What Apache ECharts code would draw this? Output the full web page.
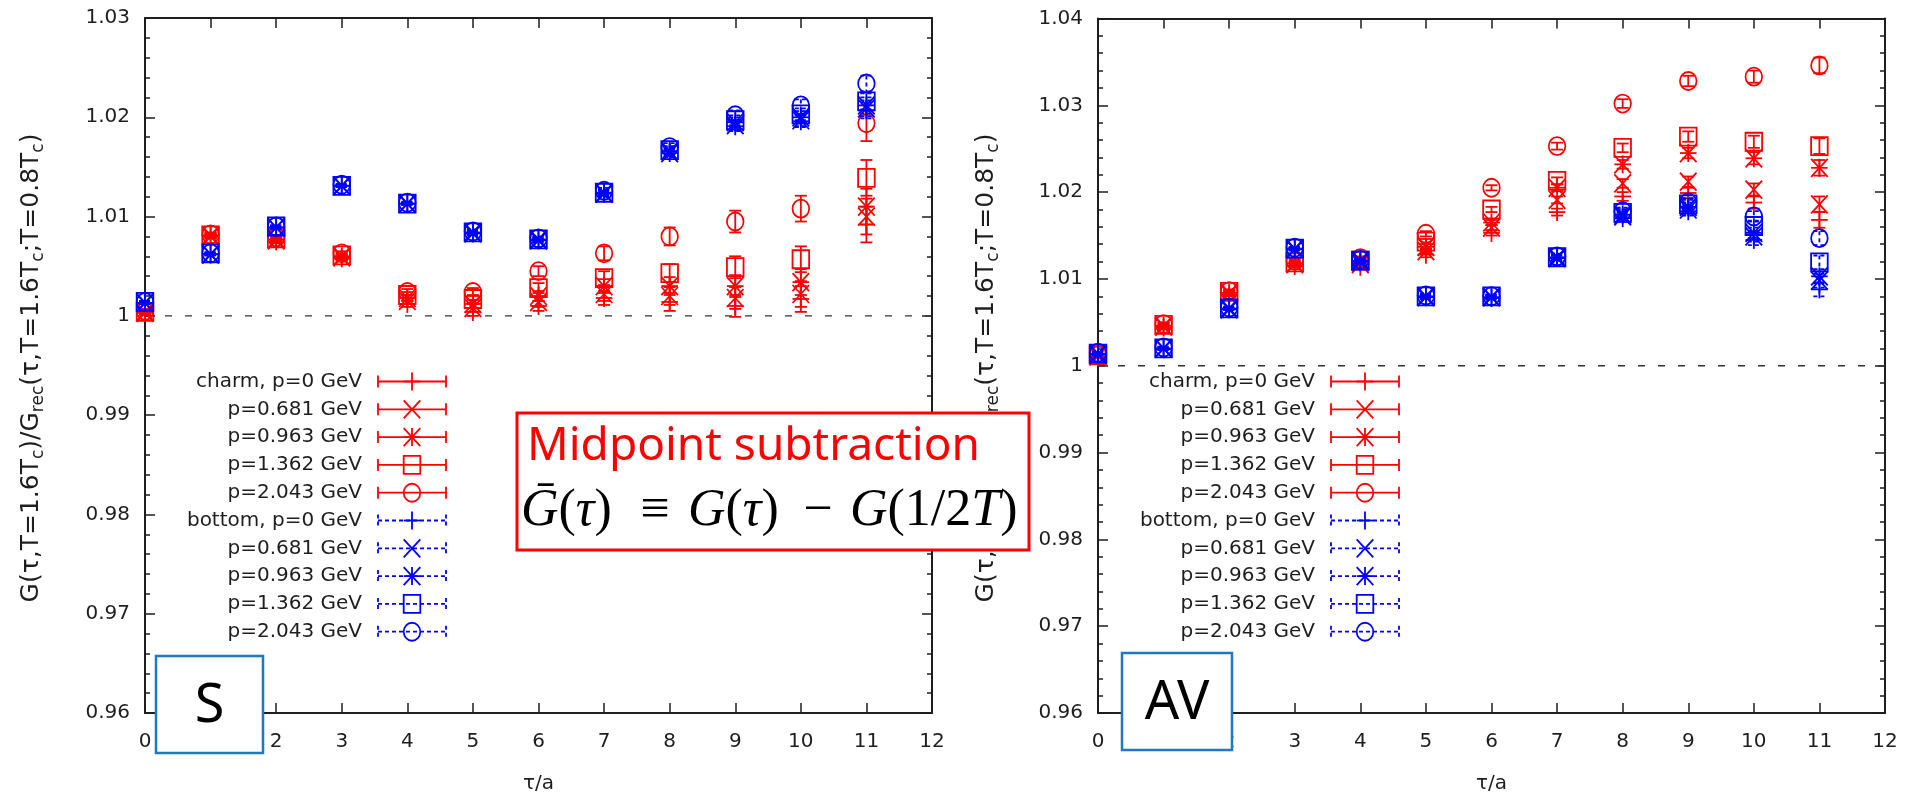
<!DOCTYPE html>
<html>
<head>
<meta charset="utf-8">
<title>Correlator ratio, S and AV channels</title>
<script src="https://cdn.jsdelivr.net/npm/echarts@6/dist/echarts.min.js"></script>
<style>
  html, body { margin: 0; padding: 0; background: #ffffff; }
  #main { width: 1907px; height: 799px; }
</style>
</head>
<body>
<div id="main"></div>
<script>
// ---------- data ----------
const tau = [0, 1, 2, 3, 4, 5, 6, 7, 8, 9, 10, 11];
const xTickLabels = ['0', '1', '2', '3', '4', '5', '6', '7', '8', '9', '10', '11', '12'];
const yTickLabelsS = ['0.96', '0.97', '0.98', '0.99', '1', '1.01', '1.02', '1.03'];
const yTickLabelsAV = ['0.96', '0.97', '0.98', '0.99', '1', '1.01', '1.02', '1.03', '1.04'];
const legendLabels = ['charm, p=0 GeV', 'p=0.681 GeV', 'p=0.963 GeV', 'p=1.362 GeV', 'p=2.043 GeV',
                      'bottom, p=0 GeV', 'p=0.681 GeV', 'p=0.963 GeV', 'p=1.362 GeV', 'p=2.043 GeV'];
const yAxisTitle = '{m|G(τ,T=1.6T}{s|c}{m|)/G}{s|rec}{m|(τ,T=1.6T}{s|c}{m|;T=0.8T}{s|c}{m|)}';

// S channel, charm
const sCharmP0    = [1.0003, 1.0080, 1.0075, 1.0058, 1.0012, 1.0004, 1.0010, 1.0018, 1.0014, 1.0010, 1.0017, 1.0092];
const sCharmP0681 = [1.0003, 1.0080, 1.0076, 1.0059, 1.0015, 1.0008, 1.0014, 1.0022, 1.0020, 1.0018, 1.0022, 1.0100];
const sCharmP0963 = [1.0004, 1.0081, 1.0077, 1.0060, 1.0018, 1.0012, 1.0020, 1.0030, 1.0030, 1.0030, 1.0034, 1.0110];
const sCharmP1362 = [1.0004, 1.0081, 1.0078, 1.0061, 1.0021, 1.0017, 1.0028, 1.0038, 1.0043, 1.0049, 1.0057, 1.0139];
const sCharmP2043 = [1.0005, 1.0082, 1.0079, 1.0063, 1.0024, 1.0024, 1.0045, 1.0063, 1.0080, 1.0095, 1.0108, 1.0194];
const sCharmErr   = [0.0002, 0.0002, 0.0002, 0.0002, 0.0003, 0.0004, 0.0005, 0.0007, 0.0009, 0.0011, 0.0013, 0.0018];
// S channel, bottom
const sBottomP0    = [1.0013, 1.0062, 1.0089, 1.0131, 1.0113, 1.0083, 1.0076, 1.0123, 1.0164, 1.0191, 1.0196, 1.0207];
const sBottomP0681 = [1.0013, 1.0062, 1.0089, 1.0131, 1.0113, 1.0083, 1.0076, 1.0123, 1.0164, 1.0192, 1.0197, 1.0209];
const sBottomP0963 = [1.0013, 1.0062, 1.0089, 1.0131, 1.0113, 1.0084, 1.0077, 1.0124, 1.0166, 1.0195, 1.0200, 1.0212];
const sBottomP1362 = [1.0014, 1.0063, 1.0090, 1.0131, 1.0113, 1.0084, 1.0077, 1.0124, 1.0167, 1.0197, 1.0203, 1.0216];
const sBottomP2043 = [1.0014, 1.0063, 1.0090, 1.0132, 1.0114, 1.0085, 1.0078, 1.0126, 1.0170, 1.0202, 1.0212, 1.0234];
const sBottomErr   = [0.0001, 0.0001, 0.0001, 0.0001, 0.0001, 0.0002, 0.0002, 0.0003, 0.0004, 0.0005, 0.0006, 0.0008];

// AV channel, charm
const avCharmP0    = [1.0010, 1.0044, 1.0082, 1.0115, 1.0114, 1.0128, 1.0153, 1.0177, 1.0195, 1.0199, 1.0188, 1.0168];
const avCharmP0681 = [1.0011, 1.0045, 1.0083, 1.0117, 1.0117, 1.0132, 1.0159, 1.0191, 1.0210, 1.0212, 1.0203, 1.0186];
const avCharmP0963 = [1.0011, 1.0046, 1.0084, 1.0118, 1.0119, 1.0137, 1.0165, 1.0205, 1.0232, 1.0245, 1.0239, 1.0228];
const avCharmP1362 = [1.0012, 1.0047, 1.0085, 1.0119, 1.0121, 1.0143, 1.0180, 1.0213, 1.0251, 1.0264, 1.0258, 1.0253];
const avCharmP2043 = [1.0012, 1.0048, 1.0086, 1.0121, 1.0124, 1.0152, 1.0205, 1.0253, 1.0302, 1.0328, 1.0333, 1.0346];
const avCharmErr   = [0.0001, 0.0002, 0.0002, 0.0002, 0.0002, 0.0003, 0.0003, 0.0004, 0.0005, 0.0006, 0.0007, 0.0009];
// AV channel, bottom
const avBottomP0    = [1.0013, 1.0019, 1.0065, 1.0134, 1.0120, 1.0079, 1.0078, 1.0124, 1.0170, 1.0178, 1.0145, 1.0088];
const avBottomP0681 = [1.0013, 1.0020, 1.0065, 1.0134, 1.0120, 1.0079, 1.0079, 1.0124, 1.0172, 1.0180, 1.0149, 1.0098];
const avBottomP0963 = [1.0014, 1.0020, 1.0066, 1.0135, 1.0121, 1.0080, 1.0079, 1.0125, 1.0174, 1.0183, 1.0153, 1.0103];
const avBottomP1362 = [1.0014, 1.0020, 1.0066, 1.0135, 1.0121, 1.0080, 1.0080, 1.0125, 1.0176, 1.0186, 1.0161, 1.0119];
const avBottomP2043 = [1.0015, 1.0021, 1.0067, 1.0136, 1.0122, 1.0081, 1.0080, 1.0126, 1.0178, 1.0188, 1.0172, 1.0147];
const avBottomErr   = [0.0001, 0.0001, 0.0001, 0.0001, 0.0002, 0.0002, 0.0002, 0.0003, 0.0004, 0.0005, 0.0006, 0.0008];

// ---------- styling ----------
const RED = '#ff0000';
const BLUE = '#0000ff';
const INK = '#1e1e1e';
const FONT = 'DejaVu Sans';
const shapes = ['plus', 'cross', 'star', 'square', 'circle'];
const HW = 8.3, HH = 9;     // half width / half height of point symbols
const CAP = 6;              // half width of error-bar caps
const LW = 1.8;             // stroke width of points and bars

function strokeStyle(color, dashed) {
  return { stroke: color, lineWidth: LW, fill: null, lineDash: dashed ? [4, 3] : null };
}
function seg(x1, y1, x2, y2, color, dashed, z) {
  const el = { type: 'line', shape: { x1, y1, x2, y2 }, style: strokeStyle(color, dashed) };
  if (z != null) el.z = z;
  return el;
}
// point symbols in the gnuplot style: +, x, *, open square, open circle
function symbolEls(shape, cx, cy, color, z) {
  const out = [];
  if (shape === 'plus' || shape === 'star') {
    out.push(seg(cx - HW, cy, cx + HW, cy, color, false));
    out.push(seg(cx, cy - HH, cx, cy + HH, color, false));
  }
  if (shape === 'cross' || shape === 'star') {
    out.push(seg(cx - HW, cy - HH, cx + HW, cy + HH, color, false));
    out.push(seg(cx - HW, cy + HH, cx + HW, cy - HH, color, false));
  }
  if (shape === 'square') {
    out.push({ type: 'rect', shape: { x: cx - HW, y: cy - HH, width: 2 * HW, height: 2 * HH },
               style: strokeStyle(color) });
  }
  if (shape === 'circle') {
    out.push({ type: 'circle', x: cx, y: cy, scaleY: HH / HW, shape: { cx: 0, cy: 0, r: HW },
               style: { stroke: color, lineWidth: LW * 0.95, fill: null } });
  }
  if (z != null) out.forEach(el => { el.z = z; });
  return out;
}

function pointSeries(axisIdx, values, errs, shape, color, dashed, z) {
  return {
    type: 'custom',
    xAxisIndex: axisIdx,
    yAxisIndex: axisIdx,
    silent: true,
    animation: false,
    z: z,
    data: tau.map((t, i) => [t, values[i], errs[i]]),
    renderItem: function (params, api) {
      const x = api.value(0), y = api.value(1), e = api.value(2);
      const c = api.coord([x, y]);
      const hi = api.coord([x, y + e]);
      const lo = api.coord([x, y - e]);
      const children = [
        seg(c[0], hi[1], c[0], lo[1], color, dashed),
        seg(c[0] - CAP, hi[1], c[0] + CAP, hi[1], color, dashed),
        seg(c[0] - CAP, lo[1], c[0] + CAP, lo[1], color, dashed)
      ].concat(symbolEls(shape, c[0], c[1], color));
      return { type: 'group', children: children };
    }
  };
}

function refLine(axisIdx) {
  return {
    type: 'line', xAxisIndex: axisIdx, yAxisIndex: axisIdx, silent: true, animation: false,
    symbol: 'none', z: 1,
    data: [[0, 1], [12, 1]],
    lineStyle: { color: '#333', width: 1.3, type: [7, 13] }
  };
}

// ---------- layout ----------
const grids = [
  { left: 145, top: 18, width: 787, height: 699 },
  { left: 1098, top: 18.5, width: 787, height: 698 }
];
const yRanges = [
  { min: 0.96, max: 1.03, labels: yTickLabelsS },
  { min: 0.96, max: 1.04, labels: yTickLabelsAV }
];

const xAxes = [], yAxes = [];
grids.forEach((g, gi) => {
  const line = { show: true, onZero: false, lineStyle: { color: INK, width: 2 } };
  const tick = { show: true, inside: true, length: 10, lineStyle: { color: INK, width: 1.5 } };
  ['bottom', 'top'].forEach(pos => {
    xAxes.push({
      gridIndex: gi, type: 'value', position: pos, min: 0, max: 12, interval: 1,
      axisLine: line, axisTick: tick, splitLine: { show: false },
      axisLabel: {
        show: pos === 'bottom', margin: 19, color: INK, fontSize: 20, fontFamily: FONT,
        formatter: v => xTickLabels[Math.round(v)]
      },
      name: pos === 'bottom' ? 'τ/a' : '',
      nameLocation: 'middle', nameGap: 61,
      nameTextStyle: { color: INK, fontSize: 20, fontFamily: FONT }
    });
  });
  const yr = yRanges[gi];
  ['left', 'right'].forEach(pos => {
    yAxes.push({
      gridIndex: gi, type: 'value', position: pos, min: yr.min, max: yr.max, interval: 0.01,
      axisLine: line, axisTick: tick,
      minorTick: { show: true, splitNumber: 5, length: 5, lineStyle: { color: INK, width: 1.5 } },
      splitLine: { show: false }, minorSplitLine: { show: false },
      axisLabel: {
        show: pos === 'left', margin: 15, color: INK, fontSize: 20, fontFamily: FONT,
        formatter: v => yr.labels[Math.round((v - yr.min) / 0.01)]
      }
    });
  });
});

// ---------- series ----------
const sCharm = [sCharmP0, sCharmP0681, sCharmP0963, sCharmP1362, sCharmP2043];
const sBottom = [sBottomP0, sBottomP0681, sBottomP0963, sBottomP1362, sBottomP2043];
const avCharm = [avCharmP0, avCharmP0681, avCharmP0963, avCharmP1362, avCharmP2043];
const avBottom = [avBottomP0, avBottomP0681, avBottomP0963, avBottomP1362, avBottomP2043];

const series = [refLine(0), refLine(2)];
sCharm.forEach((v, i) => series.push(pointSeries(0, v, sCharmErr, shapes[i], RED, false, 3)));
sBottom.forEach((v, i) => series.push(pointSeries(0, v, sBottomErr, shapes[i], BLUE, true, 4)));
avCharm.forEach((v, i) => series.push(pointSeries(2, v, avCharmErr, shapes[i], RED, false, 3)));
avBottom.forEach((v, i) => series.push(pointSeries(2, v, avBottomErr, shapes[i], BLUE, true, 4)));

// ---------- legend, axis titles and annotations ----------
const graphics = [];
function addKey(gridLeft) {
  const rowY0 = 381.5, rowDy = 27.8;
  legendLabels.forEach((label, i) => {
    const y = rowY0 + i * rowDy;
    const bottom = i >= 5;
    const color = bottom ? BLUE : RED;
    const x0 = gridLeft + 233, x1 = gridLeft + 301, xs = gridLeft + 267;
    graphics.push({
      type: 'text', x: gridLeft + 217, y: y, z: 50,
      style: { text: label, fill: INK, fontSize: 20, fontFamily: FONT, align: 'right', verticalAlign: 'middle' }
    });
    [
      seg(x0, y, x1, y, color, bottom, 50),
      seg(x0, y - CAP, x0, y + CAP, color, bottom, 50),
      seg(x1, y - CAP, x1, y + CAP, color, bottom, 50)
    ].concat(symbolEls(shapes[i % 5], xs, y, color, 50)).forEach(el => graphics.push(el));
  });
}
addKey(grids[0].left);
addKey(grids[1].left);

[31.5, 986.5].forEach(x => {
  graphics.push({
    type: 'text', x: x, y: 368, rotation: Math.PI / 2, z: 10,
    style: {
      text: yAxisTitle, fill: INK, align: 'center', verticalAlign: 'middle',
      rich: {
        m: { fontSize: 25, fontFamily: FONT, lineHeight: 32, verticalAlign: 'middle', fill: INK },
        s: { fontSize: 17, fontFamily: FONT, lineHeight: 18, verticalAlign: 'bottom', fill: INK }
      }
    }
  });
});

// midpoint-subtraction note
const noteZ = 200;
graphics.push({ type: 'rect', z: noteZ, shape: { x: 517, y: 413, width: 512, height: 137 },
                style: { fill: '#ffffff', stroke: '#ff0000', lineWidth: 3 } });
graphics.push({ type: 'text', z: noteZ + 1, x: 527, y: 447,
                style: { text: 'Midpoint subtraction', fill: '#ff0000', fontSize: 46, fontFamily: 'Noto Sans',
                         align: 'left', verticalAlign: 'middle' } });
const mathRich = {
  i: { fontSize: 52, fontFamily: 'Liberation Serif', fontStyle: 'italic', fill: '#000' },
  r: { fontSize: 52, fontFamily: 'Liberation Serif', fill: '#000' }
};
[
  { x: 521, text: '{i|Ḡ}{r|(}{i|τ}{r|)}', align: 'left' },
  { x: 655, text: '{r|≡}', align: 'center' },
  { x: 688, text: '{i|G}{r|(}{i|τ}{r|)}', align: 'left' },
  { x: 818, text: '{r|−}', align: 'center' },
  { x: 850, text: '{i|G}{r|(1/2}{i|T}{r|)}', align: 'left' }
].forEach(p => {
  graphics.push({ type: 'text', z: noteZ + 1, x: p.x, y: 511,
                  style: { text: p.text, rich: mathRich, fill: '#000', align: p.align, verticalAlign: 'middle' } });
});

// channel tags
[
  { x: 156, y: 656, w: 107, h: 97, label: 'S' },
  { x: 1122, y: 653, w: 110, h: 97, label: 'AV' }
].forEach(t => {
  graphics.push({ type: 'rect', z: noteZ, shape: { x: t.x, y: t.y, width: t.w, height: t.h },
                  style: { fill: '#ffffff', stroke: '#1f78c1', lineWidth: 2.5 } });
  graphics.push({ type: 'text', z: noteZ + 1, x: t.x + t.w / 2, y: t.y + t.h / 2 + 2,
                  style: { text: t.label, fill: '#000', fontSize: 54, fontFamily: 'Noto Sans',
                           align: 'center', verticalAlign: 'middle' } });
});

const chart = echarts.init(document.getElementById('main'), null, { renderer: 'canvas' });
chart.setOption({
  backgroundColor: '#ffffff',
  animation: false,
  textStyle: { fontFamily: FONT },
  grid: grids,
  xAxis: xAxes,
  yAxis: yAxes,
  series: series,
  graphic: { elements: graphics }
});
</script>
</body>
</html>
